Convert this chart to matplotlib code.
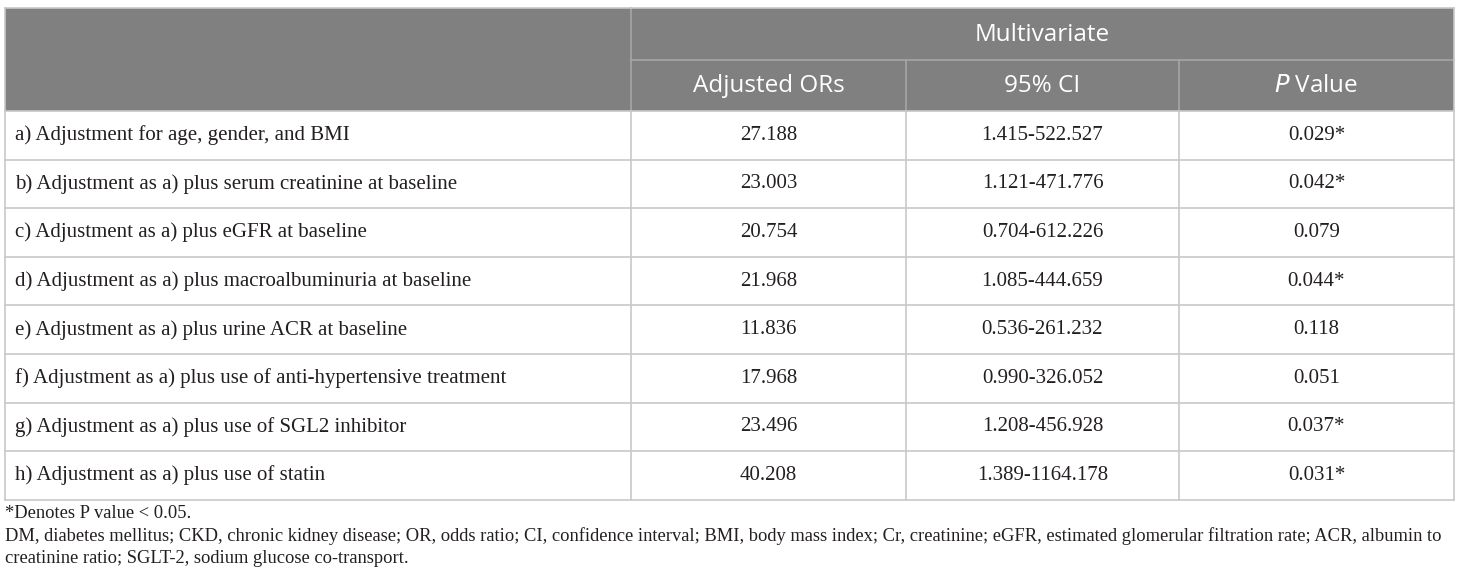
import matplotlib
matplotlib.use('Agg')
import matplotlib.pyplot as plt
from matplotlib.patches import Rectangle

# ── data ──────────────────────────────────────────────────────────────────────
row_labels = [
    'a) Adjustment for age, gender, and BMI',
    'b) Adjustment as a) plus serum creatinine at baseline',
    'c) Adjustment as a) plus eGFR at baseline',
    'd) Adjustment as a) plus macroalbuminuria at baseline',
    'e) Adjustment as a) plus urine ACR at baseline',
    'f) Adjustment as a) plus use of anti-hypertensive treatment',
    'g) Adjustment as a) plus use of SGL2 inhibitor',
    'h) Adjustment as a) plus use of statin',
]
adjusted_ors = ['27.188', '23.003', '20.754', '21.968', '11.836', '17.968', '23.496', '40.208']
ci_95 = ['1.415-522.527', '1.121-471.776', '0.704-612.226', '1.085-444.659',
         '0.536-261.232', '0.990-326.052', '1.208-456.928', '1.389-1164.178']
p_values = ['0.029*', '0.042*', '0.079', '0.044*', '0.118', '0.051', '0.037*', '0.031*']
group_header = 'Multivariate'
col_headers = ['Adjusted ORs', '95% CI', r'$\it{P}$ Value']
footnotes = [
    '*Denotes P value < 0.05.',
    'DM, diabetes mellitus; CKD, chronic kidney disease; OR, odds ratio; CI, confidence interval; '
    'BMI, body mass index; Cr, creatinine; eGFR, estimated glomerular filtration rate; ACR, albumin to',
    'creatinine ratio; SGLT-2, sodium glucose co-transport.',
]

# ── layout (pixels) ───────────────────────────────────────────────────────────
W, H = 1460, 584
x_cols = [5, 631, 906, 1179, 1454]
y_top = 8
h_head = 51.5
h_row = 48.6
y_body = y_top + 2 * h_head

C_HEAD = '#808080'
C_HLINE = '#a6a6a6'
C_GRID = '#c8c8c8'
C_TEXT = '#231f20'
SERIF = ['Liberation Serif', 'DejaVu Serif']
SANS = ['Open Sans', 'DejaVu Sans']

fig = plt.figure(figsize=(W / 100, H / 100), dpi=100)
ax = fig.add_axes([0, 0, 1, 1])
ax.set_xlim(0, W)
ax.set_ylim(H, 0)
ax.axis('off')

# header background
ax.add_patch(Rectangle((x_cols[0], y_top), x_cols[-1] - x_cols[0], 2 * h_head,
                       facecolor=C_HEAD, edgecolor='none', zorder=1))
# header lines
ax.plot([x_cols[1], x_cols[1]], [y_top, y_body], color=C_HLINE, lw=1.2, zorder=2)
ax.plot([x_cols[1], x_cols[-1]], [y_top + h_head] * 2, color=C_HLINE, lw=1.2, zorder=2)
for xc in x_cols[2:-1]:
    ax.plot([xc, xc], [y_top + h_head, y_body], color=C_HLINE, lw=1.2, zorder=2)

ax.text((x_cols[1] + x_cols[-1]) / 2, y_top + h_head / 2 + 1, group_header,
        ha='center', va='center', fontsize=17.5, color='white', family=SANS)
for j, hdr in enumerate(col_headers):
    ax.text((x_cols[j + 1] + x_cols[j + 2]) / 2, y_top + 1.5 * h_head + 1, hdr,
            ha='center', va='center', fontsize=17.5, color='white', family=SANS)

# body
n = len(row_labels)
y_end = y_body + n * h_row
for i in range(n + 1):
    yy = y_body + i * h_row
    ax.plot([x_cols[0], x_cols[-1]], [yy, yy], color=C_GRID, lw=1.2, zorder=2)
for xc in x_cols:
    y0 = y_top if xc in (x_cols[0], x_cols[-1]) else y_body
    ax.plot([xc, xc], [y0, y_end], color=C_GRID, lw=1.2, zorder=2)
ax.plot([x_cols[0], x_cols[-1]], [y_top, y_top], color=C_GRID, lw=1.2, zorder=2)

for i in range(n):
    yc = y_body + (i + 0.5) * h_row
    ax.text(x_cols[0] + 10, yc, row_labels[i], ha='left', va='center',
            fontsize=15, color=C_TEXT, family=SERIF)
    for j, val in enumerate([adjusted_ors[i], ci_95[i], p_values[i]]):
        ax.text((x_cols[j + 1] + x_cols[j + 2]) / 2, yc, val, ha='center', va='center',
                fontsize=15, color=C_TEXT, family=SERIF)

# footnotes
for k, line in enumerate(footnotes):
    ax.text(x_cols[0], y_end + 14 + k * 22.5, line, ha='left', va='center',
            fontsize=13.3, color=C_TEXT, family=SERIF)

fig.savefig('out.png', dpi=100)
